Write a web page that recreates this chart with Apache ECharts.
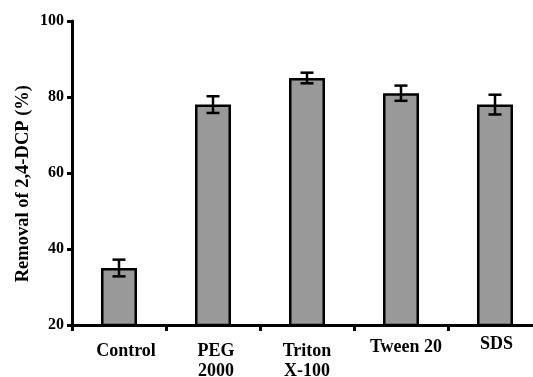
<!DOCTYPE html>
<html>
<head>
<meta charset="utf-8">
<script src="https://cdn.jsdelivr.net/npm/echarts@6/dist/echarts.min.js"></script>
<style>html,body{margin:0;padding:0;background:#fff;}#c{width:533px;height:377px;}</style>
</head>
<body>
<div id="c"></div>
<script>
var categories = ['Control', 'PEG\n2000', 'Triton\nX-100', 'Tween 20', 'SDS'];
var removal = [35, 78, 85, 81, 78];
var errors = [2.2, 2.2, 1.4, 2.0, 2.6];
var yTicks = [20, 40, 60, 80, 100];

var FONT = '"Liberation Serif", "Times New Roman", serif';
var labelLineHeights = [20, 20, 20, 12, 6];
var labelShiftX = [7, 3, 0, 5, 1.5];

var chart = echarts.init(document.getElementById('c'));
chart.setOption({
  animation: false,
  backgroundColor: '#fff',
  grid: {left: 72, top: 21, bottom: 52, right: -9, containLabel: false, outerBoundsMode: 'none'},
  xAxis: {
    type: 'category',
    data: categories.map(function (c, i) {
      return {value: c, textStyle: {lineHeight: labelLineHeights[i], padding: [0, 0, 0, 2 * labelShiftX[i]]}};
    }),
    axisLine: {lineStyle: {color: '#000', width: 3}},
    axisTick: {show: true, length: 6, lineStyle: {color: '#000', width: 3}},
    axisLabel: {color: '#000', fontFamily: FONT, fontWeight: 'bold', fontSize: 18, margin: 16, interval: 0}
  },
  yAxis: {
    type: 'value',
    min: yTicks[0], max: yTicks[yTicks.length - 1], interval: 20,
    axisLine: {show: true, lineStyle: {color: '#000', width: 3}},
    axisTick: {show: true, length: 5, lineStyle: {color: '#000', width: 3}},
    splitLine: {show: false},
    axisLabel: {color: '#000', fontFamily: FONT, fontWeight: 'bold', fontSize: 16, margin: 8}
  },
  graphic: [{
    type: 'text',
    left: 14, top: 85,
    rotation: Math.PI / 2,
    style: {text: 'Removal of 2,4-DCP (%)', fill: '#000', font: 'bold 18.5px ' + FONT}
  }],
  series: [{
    type: 'bar',
    data: removal,
    barWidth: 36,
    itemStyle: {color: '#999999', borderColor: '#000', borderWidth: 2.5}
  }, {
    type: 'custom',
    data: removal.map(function (v, i) { return [i, v - errors[i], v + errors[i]]; }),
    encode: {x: 0, y: [1, 2]},
    z: 10,
    renderItem: function (params, api) {
      var lo = api.coord([api.value(0), api.value(1)]);
      var hi = api.coord([api.value(0), api.value(2)]);
      var hw = 6.5;
      var st = {stroke: '#000', lineWidth: 2.5};
      return {type: 'group', children: [
        {type: 'line', shape: {x1: lo[0], y1: lo[1], x2: hi[0], y2: hi[1]}, style: st},
        {type: 'line', shape: {x1: hi[0] - hw, y1: hi[1], x2: hi[0] + hw, y2: hi[1]}, style: st},
        {type: 'line', shape: {x1: lo[0] - hw, y1: lo[1], x2: lo[0] + hw, y2: lo[1]}, style: st}
      ]};
    }
  }]
});
</script>
</body>
</html>
